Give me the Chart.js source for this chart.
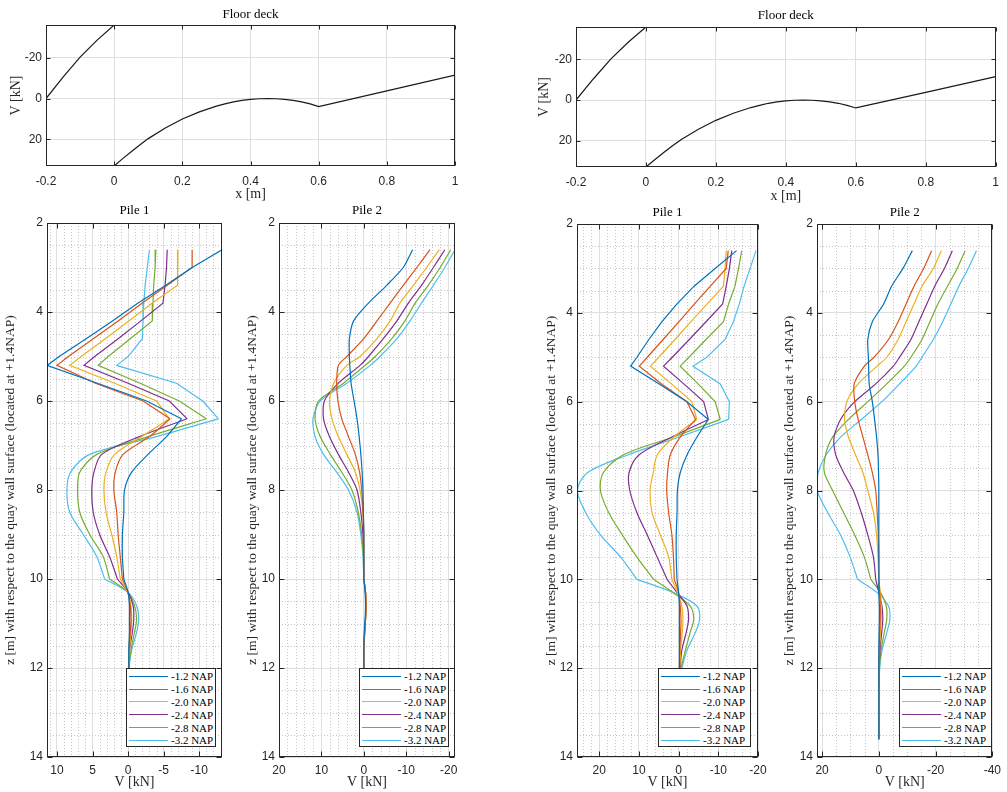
<!DOCTYPE html>
<html>
<head>
<meta charset="utf-8">
<script src="https://cdn.jsdelivr.net/npm/chart.js@4.4.1/dist/chart.umd.min.js"></script>
<style>
  html, body { margin: 0; padding: 0; background: #fff; overflow: hidden; }
  body { position: relative; width: 1007px; height: 792px; }
  canvas { position: absolute; }
  .legend { position: absolute; background: #fff; border: 1px solid #262626; box-sizing: border-box; padding-top: 1px;
            font: 11px 'Liberation Serif', 'Times New Roman', serif; color: #000; }
  .legend div { height: 12.8px; display: flex; align-items: center; white-space: nowrap; }
  .legend .swatch { display: inline-block; width: 39px; height: 0; margin: 0 3px 0 2px; }
</style>
</head>
<body>
<canvas id="deckLeft"></canvas>
<canvas id="deckRight"></canvas>
<canvas id="pile1Left"></canvas>
<canvas id="pile2Left"></canvas>
<canvas id="pile1Right"></canvas>
<canvas id="pile2Right"></canvas>
<script>
// ---- data ----
const napLabels = ['-1.2 NAP', '-1.6 NAP', '-2.0 NAP', '-2.4 NAP', '-2.8 NAP', '-3.2 NAP'];
const napColors = ['#0072BD', '#D95319', '#EDB120', '#7E2F8E', '#77AC30', '#4DBEEE'];

// floor deck, shear V [kN] along x [m] (same curve in both figures)
const deckLeftX = [-0.2, -0.15, -0.1, -0.05, 0];
const deckLeftV = [0, -10.5, -20.3, -28.6, -36];
const deckRightX = [0, 0.025, 0.05, 0.075, 0.1, 0.15, 0.2, 0.25, 0.3, 0.325, 0.35, 0.375, 0.4, 0.425, 0.45, 0.475, 0.5, 0.525, 0.55, 0.575, 0.6, 0.8, 1];
const deckRightV = [33, 29.4, 26, 22.7, 19.6, 14.4, 10, 6.5, 3.7, 2.6, 1.6, 0.9, 0.4, 0.1, 0, 0.1, 0.4, 0.9, 1.6, 2.6, 3.9, -3.8, -11.5];

// depth z [m] for the pile curves
const depth = [2.6, 3.0, 3.4, 3.8, 4.2, 4.6, 5.0, 5.2, 5.6, 6.0, 6.4, 6.8, 7.2, 7.6, 8.0, 8.5, 9.0, 9.5, 10.0, 10.3, 10.6, 10.9, 11.2, 11.6, 12.0];
const depthDeep = [2.6, 3.0, 3.4, 3.8, 4.2, 4.6, 5.0, 5.2, 5.6, 6.0, 6.4, 6.8, 7.2, 7.6, 8.0, 8.5, 9.0, 9.5, 10.0, 10.3, 10.6, 10.9, 11.2, 11.6, 12.0, 12.6, 13.6];

// V [kN] per series, in the order of napLabels
const pile1LeftV = [
  [-13.2, -9.0, -5.3, -1.4, 2.2, 5.9, 9.7, 11.4, 4.3, -2.6, -7.5, -5.4, -2.8, -0.5, 0.5, 0.6, 0.8, 0.8, 0.6, 0, -0.2, -0.2, -0.2, -0.1, -0.1],
  [-9.0, -9.0, -5.5, -2.0, 1.4, 4.9, 8.4, 10.0, 4.6, -2.1, -5.9, -3.0, 0.7, 1.8, 2.0, 1.6, 1.4, 1.1, 0.8, 0, -0.3, -0.4, -0.3, -0.1, -0.1],
  [-7.0, -7.0, -6.9, -3.4, -0.1, 3.2, 6.6, 8.2, 1.9, -4.0, -5.8, -1.9, 1.9, 3.1, 3.4, 3.1, 2.3, 1.6, 1.1, 0.1, -0.4, -0.5, -0.4, -0.2, -0.1],
  [-5.5, -5.4, -5.2, -4.9, -1.8, 1.4, 4.7, 6.2, 0, -5.8, -8.3, -1.6, 3.7, 4.8, 5.1, 4.9, 4.0, 2.6, 1.5, 0, -0.7, -0.8, -0.6, -0.2, -0.1],
  [-3.9, -3.8, -3.6, -3.5, -3.4, -0.3, 2.8, 4.2, -1.7, -7.2, -11.0, -2.8, 4.4, 6.8, 7.1, 6.8, 5.4, 3.5, 2.6, 0, -0.9, -1.2, -0.9, -0.4, -0.1],
  [-3.0, -2.7, -2.4, -2.2, -2.1, -2.0, 0, 1.6, -6.8, -10.5, -12.7, -4.0, 5.4, 8.1, 8.6, 8.2, 6.3, 4.4, 3.3, 0, -1.2, -1.5, -1.2, -0.5, -0.1]
];
const pile2LeftV = [
  [-11.5, -9.3, -5.4, -1.1, 2.4, 3.4, 3.4, 3.3, 3.0, 2.3, 1.6, 1.1, 0.7, 0.4, 0.2, 0.1, 0, 0, 0, -0.3, -0.4, -0.3, -0.1, 0, 0],
  [-15.6, -12.5, -9.3, -6.2, -3.1, 0, 4.0, 6.0, 6.4, 6.1, 5.2, 3.6, 2.0, 1.0, 0.5, 0.2, 0, 0, 0, -0.4, -0.5, -0.4, -0.2, 0, 0],
  [-17.8, -14.8, -11.7, -8.5, -6.2, -3.1, 0.9, 4.0, 7.1, 8.1, 7.5, 6.0, 4.0, 2.0, 0.9, 0.2, 0, 0, 0, -0.4, -0.5, -0.4, -0.2, 0, 0],
  [-19.1, -16.4, -13.6, -10.5, -7.8, -4.6, -1.1, 0.9, 6.0, 9.3, 9.5, 8.1, 6.0, 3.6, 1.6, 0.7, 0.2, 0, 0, -0.4, -0.5, -0.4, -0.2, 0, 0],
  [-20.5, -18.0, -15.2, -12.1, -9.7, -6.6, -2.7, -0.3, 4.8, 10.7, 11.5, 10.3, 7.9, 5.2, 2.8, 1.3, 0.5, 0.1, 0, -0.4, -0.5, -0.4, -0.2, 0, 0],
  [-21.5, -19.1, -16.4, -13.6, -10.9, -7.8, -3.8, -1.5, 4.0, 10.3, 12.0, 11.5, 9.5, 6.4, 3.6, 1.6, 0.7, 0.2, 0, -0.4, -0.5, -0.4, -0.2, 0, 0]
];
const pile1RightV = [
  [-14.6, -9.2, -3.9, 0.4, 4.2, 7.5, 10.5, 12.1, 4.9, -2.1, -7.5, -4.6, -2.1, -0.4, 0.3, 0.4, 0.6, 0.6, 0.4, 0, -0.2, -0.2, -0.2, -0.2, -0.2],
  [-12.5, -12.0, -8.0, -4.0, -0.1, 3.9, 7.9, 9.9, 4.3, -2.1, -4.3, -0.4, 2.1, 2.8, 3.0, 2.5, 1.7, 1.3, 1.1, 0, -0.4, -0.6, -0.5, -0.3, -0.2],
  [-12.0, -11.7, -11.3, -7.2, -3.1, 0.9, 5.0, 7.1, 1.8, -3.3, -4.6, 1.3, 5.4, 6.4, 7.2, 6.7, 4.6, 2.5, 1.7, 0.3, -0.8, -1.1, -0.9, -0.5, -0.3],
  [-13.4, -12.8, -12.0, -11.1, -6.9, -2.7, 1.6, 3.8, -1.3, -6.3, -7.5, 1.8, 10.0, 12.5, 12.3, 10.5, 7.9, 5.4, 2.9, 0.4, -2.1, -2.5, -1.9, -0.8, -0.4],
  [-15.9, -15.1, -14.2, -12.6, -11.3, -6.9, -2.6, -0.4, -4.9, -9.2, -10.5, 1.5, 14.0, 19.0, 19.7, 17.6, 14.2, 10.5, 6.3, 1.3, -2.9, -3.8, -2.9, -1.7, -0.6],
  [-19.5, -18.0, -16.5, -15.3, -13.8, -11.7, -7.1, -3.6, -10.5, -12.8, -12.6, 0.1, 12.8, 23.0, 25.5, 23.4, 19.7, 14.6, 10.5, 1.3, -4.6, -5.3, -4.2, -2.1, -0.8]
];
const pile2RightV = [
  [-11.8, -8.5, -4.5, -1.7, 2.3, 3.9, 3.7, 3.6, 3.4, 2.3, 1.5, 0.8, 0.3, 0.1, 0, 0, 0, 0, 0, 0, -0.2, -0.2, -0.1, 0, 0, 0, 0],
  [-18.6, -15.8, -12.4, -9.6, -6.8, -3.4, 1.7, 5.1, 8.7, 8.5, 7.3, 5.6, 3.9, 2.3, 1.1, 0.6, 0.2, 0, 0, -0.3, -0.5, -0.5, -0.3, -0.1, 0, 0, 0],
  [-22.0, -19.2, -15.2, -12.4, -9.6, -6.8, -2.8, 0.6, 7.3, 11.3, 12.1, 10.7, 8.2, 5.6, 3.9, 1.9, 0.8, 0.3, 0, -0.5, -0.8, -0.8, -0.5, -0.2, 0, 0, 0],
  [-25.9, -23.1, -19.7, -16.9, -14.1, -11.3, -7.3, -5.1, 1.1, 8.5, 13.5, 15.8, 15.2, 12.4, 9.0, 6.2, 3.9, 1.9, 1.1, 0, -1.1, -1.4, -1.0, -0.4, -0.1, 0, 0],
  [-30.4, -27.6, -24.2, -20.8, -18.0, -15.2, -11.3, -9.0, -2.8, 3.9, 10.7, 16.3, 18.8, 19.2, 16.3, 12.4, 8.5, 5.1, 2.8, -0.6, -2.6, -2.8, -1.9, -0.8, -0.2, 0, 0],
  [-34.4, -31.5, -28.2, -25.4, -22.5, -19.2, -15.2, -13.2, -7.3, -1.1, 6.2, 13.5, 18.6, 21.4, 21.8, 18.0, 13.5, 10.1, 7.5, 0.6, -3.4, -3.9, -2.8, -1.1, -0.3, 0, 0]
];

const zLabel = 'z [m] with respect to the quay wall surface (located at +1.4NAP)';

// ---- styling ----
const axisColor = '#262626';
const serif = "'Liberation Serif', 'Times New Roman', serif";
Chart.defaults.font.family = "'Liberation Sans', Arial, sans-serif";
Chart.defaults.font.size = 12;
Chart.defaults.color = axisColor;

// matlab style: dotted minor grid under the data, box with inward ticks on top
const matlabAxes = {
  id: 'matlabAxes',
  beforeDatasetsDraw(chart, args, o) {
    const {ctx, chartArea: a, scales: {x, y}} = chart;
    ctx.save();
    ctx.strokeStyle = '#c6c6c6';
    ctx.lineWidth = 1;
    ctx.setLineDash([1, 2]);
    ctx.beginPath();
    if (o.minorX) {
      const lo = Math.min(x.min, x.max), hi = Math.max(x.min, x.max);
      for (let i = Math.ceil(lo / o.minorX); i * o.minorX <= hi + 1e-9; i++) {
        const v = i * o.minorX;
        if (Math.abs(v / o.majorX - Math.round(v / o.majorX)) < 1e-6) continue;
        const px = Math.round(x.getPixelForValue(v)) + 0.5;
        ctx.moveTo(px, a.top); ctx.lineTo(px, a.bottom);
      }
    }
    if (o.minorY) {
      for (let i = Math.ceil(y.min / o.minorY); i * o.minorY <= y.max + 1e-9; i++) {
        const v = i * o.minorY;
        if (Math.abs(v / o.majorY - Math.round(v / o.majorY)) < 1e-6) continue;
        const py = Math.round(y.getPixelForValue(v)) + 0.5;
        ctx.moveTo(a.left, py); ctx.lineTo(a.right, py);
      }
    }
    ctx.stroke();
    ctx.restore();
  },
  afterDatasetsDraw(chart, args, o) {
    const {ctx, chartArea: a, scales: {x, y}} = chart;
    const L = Math.round(a.left) + 0.5, R = Math.round(a.right) - 0.5;
    const T = Math.round(a.top) + 0.5, B = Math.round(a.bottom) - 0.5;
    ctx.save();
    ctx.strokeStyle = axisColor;
    ctx.lineWidth = 1;
    ctx.strokeRect(L, T, R - L, B - T);
    ctx.beginPath();
    x.ticks.forEach(t => {
      const px = Math.round(x.getPixelForValue(t.value)) + 0.5;
      ctx.moveTo(px, B); ctx.lineTo(px, B - o.tick);
      ctx.moveTo(px, T); ctx.lineTo(px, T + o.tick);
    });
    y.ticks.forEach(t => {
      const py = Math.round(y.getPixelForValue(t.value)) + 0.5;
      ctx.moveTo(L, py); ctx.lineTo(L + o.tick, py);
      ctx.moveTo(R, py); ctx.lineTo(R - o.tick, py);
    });
    ctx.stroke();
    ctx.restore();
  }
};

function placeCanvas(id, left, top, width, height) {
  const c = document.getElementById(id);
  c.width = width; c.height = height;
  c.style.left = left + 'px'; c.style.top = top + 'px';
  c.style.width = width + 'px'; c.style.height = height + 'px';
  return c;
}

function linearAxis(a) {
  return {
    type: 'linear',
    min: a.min, max: a.max, reverse: a.reverse,
    afterFit: s => { if (s.isHorizontal()) s.height = a.size; else s.width = a.size; },
    grid: { color: '#dfdfdf', lineWidth: 1, drawTicks: false },
    border: { display: false },
    ticks: {
      stepSize: a.step, includeBounds: false, padding: a.pad, color: axisColor, maxRotation: 0, autoSkip: false,
      callback: v => String(Math.round(v * 10) / 10)
    },
    title: { display: true, text: a.title, color: axisColor, font: { family: serif, size: a.titleSize || 14, lineHeight: '16px' }, padding: a.titlePad }
  };
}

function makeChart(id, p) {
  const canvas = placeCanvas(id, p.left, p.top, p.width, p.height);
  return new Chart(canvas, {
    type: 'scatter',
    data: { datasets: p.datasets },
    plugins: [matlabAxes],
    options: {
      responsive: false,
      animation: false,
      devicePixelRatio: 1,
      events: [],
      layout: { padding: { right: p.padRight } },
      scales: { x: linearAxis(p.x), y: linearAxis(p.y) },
      plugins: {
        legend: { display: false },
        tooltip: { enabled: false },
        title: {
          display: true, text: p.title, color: '#000', fullSize: false,
          font: { family: serif, size: 13, weight: 'normal', lineHeight: '16px' },
          padding: p.titlePad
        },
        matlabAxes: p.axes
      }
    }
  });
}

function line(xs, ys, color, label, tension) {
  return {
    label: label,
    data: xs.map((v, k) => ({ x: v, y: ys[k] })),
    showLine: true, borderColor: color, borderWidth: 1.2,
    pointRadius: 0, fill: false, tension: tension || 0
  };
}

function deckDatasets() {
  return [
    line(deckLeftX, deckLeftV, '#1a1a1a', 'V'),
    line(deckRightX, deckRightV, '#1a1a1a', 'V')
  ];
}

// V on the horizontal axis, depth on the vertical axis.
// each series is drawn in pieces so the sharp kinks stay sharp and the rest is smoothed
function pileDatasets(z, series, pieces) {
  const out = [];
  series.forEach((vals, i) => {
    pieces.forEach(pc => {
      const to = pc.to == null ? vals.length - 1 : pc.to;
      out.push(line(vals.slice(pc.from, to + 1), z.slice(pc.from, to + 1), napColors[i], napLabels[i], pc.tension));
    });
  });
  return out;
}
const pile1Pieces = [{ from: 0, to: 10, tension: 0 }, { from: 10, to: 18, tension: 0.3 }, { from: 18, tension: 0.3 }];
const pile2Pieces = [{ from: 0, to: 18, tension: 0.25 }, { from: 18, tension: 0.25 }];

function addLegend(left, top, width) {
  const box = document.createElement('div');
  box.className = 'legend';
  box.style.left = left + 'px';
  box.style.top = top + 'px';
  box.style.width = width + 'px';
  box.style.height = '79px';
  napLabels.forEach((lab, i) => {
    const row = document.createElement('div');
    const sw = document.createElement('span');
    sw.className = 'swatch';
    sw.style.borderTop = '1.5px solid ' + napColors[i];
    row.appendChild(sw);
    row.appendChild(document.createTextNode(lab));
    box.appendChild(row);
  });
  document.body.appendChild(box);
}

// ---- floor deck panels ----
const deckX = { min: -0.2, max: 1, step: 0.2 };
const deckY = { min: -36, max: 33, step: 20, reverse: true };

makeChart('deckLeft', {
  left: 0, top: 0, width: 475, height: 205, padRight: 20,
  title: 'Floor deck', titlePad: { top: 7, bottom: 2 },
  x: { ...deckX, title: 'x [m]', size: 39, pad: 8, titlePad: { top: 0, bottom: 3 } },
  y: { ...deckY, title: 'V [kN]', size: 46, pad: 4, titlePad: { top: 8, bottom: 0 } },
  axes: { tick: 4 },
  datasets: deckDatasets()
});

makeChart('deckRight', {
  left: 534, top: 0, width: 473, height: 205, padRight: 9,
  title: 'Floor deck', titlePad: { top: 8, bottom: 3 },
  x: { ...deckX, title: 'x [m]', size: 38, pad: 8, titlePad: { top: 0, bottom: 1 } },
  y: { ...deckY, title: 'V [kN]', size: 42, pad: 4, titlePad: { top: 2, bottom: 0 } },
  axes: { tick: 4 },
  datasets: deckDatasets()
});

// ---- pile panels ----
const pileY = { min: 2, max: 14, step: 2, reverse: true, title: zLabel, titleSize: 13.5, pad: 4, titlePad: { top: 2, bottom: 0 } };
const pileXTitle = { title: 'V [kN]', size: 35, pad: 6, reverse: true, titlePad: { top: 0, bottom: 2 } };

makeChart('pile1Left', {
  left: 0, top: 200, width: 242, height: 592, padRight: 20,
  title: 'Pile 1', titlePad: { top: 3, bottom: 4 },
  x: { ...pileXTitle, min: -13.2, max: 11.4, step: 5 },
  y: { ...pileY, size: 47 },
  axes: { tick: 5, minorX: 1, majorX: 5, minorY: 0.5, majorY: 2 },
  datasets: pileDatasets(depth, pile1LeftV, pile1Pieces)
});

makeChart('pile2Left', {
  left: 242, top: 200, width: 233, height: 592, padRight: 20,
  title: 'Pile 2', titlePad: { top: 3, bottom: 4 },
  x: { ...pileXTitle, min: -21.5, max: 20, step: 10 },
  y: { ...pileY, size: 37 },
  axes: { tick: 5, minorX: 2, majorX: 10, minorY: 0.5, majorY: 2 },
  datasets: pileDatasets(depth, pile2LeftV, pile2Pieces)
});

makeChart('pile1Right', {
  left: 541, top: 200, width: 237, height: 592, padRight: 20,
  title: 'Pile 1', titlePad: { top: 5, bottom: 3 },
  x: { ...pileXTitle, min: -20, max: 25.6, step: 10 },
  y: { ...pileY, size: 36 },
  axes: { tick: 5, minorX: 2, majorX: 10, minorY: 0.5, majorY: 2 },
  datasets: pileDatasets(depth, pile1RightV, pile1Pieces)
});

makeChart('pile2Right', {
  left: 779, top: 200, width: 228, height: 592, padRight: 9,
  title: 'Pile 2', titlePad: { top: 5, bottom: 3 },
  x: { ...pileXTitle, min: -40, max: 21.8, step: 20 },
  y: { ...pileY, size: 38 },
  axes: { tick: 5, minorX: 5, majorX: 20, minorY: 0.5, majorY: 2 },
  datasets: pileDatasets(depthDeep, pile2RightV, pile2Pieces)
});

addLegend(126, 668, 90);
addLegend(359, 668, 90);
addLegend(658, 668, 93);
addLegend(899, 668, 93);
</script>
</body>
</html>
